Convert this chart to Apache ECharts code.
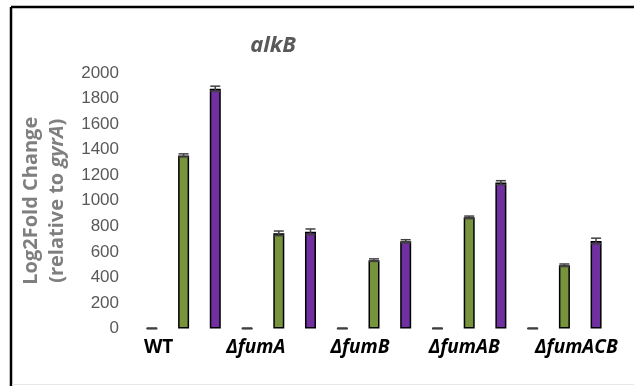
<!DOCTYPE html>
<html>
<head>
<meta charset="utf-8">
<script src="https://cdn.jsdelivr.net/npm/echarts@6/dist/echarts.min.js"></script>
<style>
  html, body { margin: 0; padding: 0; background: #ffffff; }
  #chart { width: 634px; height: 386px; }
</style>
</head>
<body>
<div id="chart"></div>
<script>
// alkB expression per strain, three conditions per strain
const categories = ['WT', 'ΔfumA', 'ΔfumB', 'ΔfumAB', 'ΔfumACB'];
const yTicks = [0, 200, 400, 600, 800, 1000, 1200, 1400, 1600, 1800, 2000];

const condition1 = [1, 1, 1, 1, 1];
const condition2 = [1355, 745, 535, 870, 495];
const condition3 = [1877, 757, 683, 1142, 685];

const condition1Err = [2, 2, 2, 2, 2];
const condition2Err = [12, 18, 10, 10, 10];
const condition3Err = [20, 22, 12, 15, 22];

// ---- layout / styling ----
const BAR_W = 11;
const BAR_GAP = 1.88;               // gap between bars, as a fraction of bar width
const SPACING = BAR_W * (1 + BAR_GAP);
const labelShift = [-25, -23, -14, -5, 12];

const chart = echarts.init(document.getElementById('chart'), null, { renderer: 'canvas' });

function errorSeries(name, values, errs, slot) {
  return {
    name: name + ' error',
    type: 'custom',
    z: 5,
    silent: true,
    data: values.map((v, i) => [i, v, errs[i]]),
    renderItem: function (params, api) {
      const idx = api.value(0);
      const v = api.value(1);
      const e = api.value(2);
      const hi = api.coord([idx, v + e]);
      const lo = api.coord([idx, v - e]);
      const x = hi[0] + (slot - 1) * SPACING;
      const cap = 5;
      const style = { stroke: '#404040', lineWidth: 1.5 };
      return {
        type: 'group',
        children: [
          { type: 'line', shape: { x1: x, y1: hi[1], x2: x, y2: lo[1] }, style: style },
          { type: 'line', shape: { x1: x - cap, y1: hi[1], x2: x + cap, y2: hi[1] }, style: style },
          { type: 'line', shape: { x1: x - cap, y1: lo[1], x2: x + cap, y2: lo[1] }, style: style }
        ]
      };
    }
  };
}

function barSeries(name, values, color) {
  return {
    name: name,
    type: 'bar',
    barWidth: BAR_W,
    barGap: (BAR_GAP * 100) + '%',
    data: values,
    itemStyle: { color: color, borderColor: '#000000', borderWidth: 1.5 }
  };
}

const option = {
  animation: false,
  backgroundColor: '#ffffff',
  title: {
    text: 'alkB',
    left: 268,
    top: 30,
    textAlign: 'center',
    textStyle: {
      fontFamily: 'Open Sans',
      fontSize: 22,
      fontStyle: 'italic',
      fontWeight: 'bold',
      color: '#595959'
    }
  },
  grid: { left: 136, right: 22, top: 73, bottom: 57.5 },
  xAxis: {
    type: 'category',
    data: categories.map((c, i) => ({
      value: c,
      textStyle: {
        padding: labelShift[i] < 0 ? [0, -2 * labelShift[i], 0, 0] : [0, 0, 0, 2 * labelShift[i]]
      }
    })),
    axisLine: { show: false },
    axisTick: { show: false },
    axisLabel: {
      margin: 10,
      interval: 0,
      fontFamily: 'Open Sans',
      fontSize: 19,
      fontWeight: 'bold',
      color: '#000000',
      formatter: function (v) { return v === 'WT' ? v : '{i|' + v + '}'; },
      rich: {
        i: { fontFamily: 'Open Sans', fontSize: 19, fontWeight: 'bold', fontStyle: 'italic', color: '#000000' }
      }
    }
  },
  yAxis: {
    type: 'value',
    min: yTicks[0],
    max: yTicks[yTicks.length - 1],
    interval: yTicks[1] - yTicks[0],
    axisLine: { show: false },
    axisTick: { show: false },
    splitLine: { show: false },
    axisLabel: {
      margin: 17,
      fontFamily: 'Liberation Sans',
      fontSize: 17,
      color: '#595959',
      formatter: function (v) { return String(v); }
    },
    name: '{b|Log2Fold Change}\n{b|(relative to }{bi|gyrA}{b|)}',
    nameLocation: 'middle',
    nameRotate: 90,
    nameGap: 58,
    nameTextStyle: {
      lineHeight: 26,
      rich: {
        b: { fontFamily: 'Open Sans', fontSize: 20, fontWeight: 'bold', color: '#7f7f7f', lineHeight: 26 },
        bi: { fontFamily: 'Open Sans', fontSize: 20, fontWeight: 'bold', fontStyle: 'italic', color: '#7f7f7f', lineHeight: 26 }
      }
    }
  },
  series: [
    barSeries('Condition 1', condition1, '#595959'),
    barSeries('Condition 2', condition2, '#77933c'),
    barSeries('Condition 3', condition3, '#7030a0'),
    errorSeries('Condition 1', condition1, condition1Err, 0),
    errorSeries('Condition 2', condition2, condition2Err, 1),
    errorSeries('Condition 3', condition3, condition3Err, 2)
  ],
  graphic: [
    { type: 'line', shape: { x1: 11, y1: 7, x2: 634, y2: 7 }, style: { stroke: '#000000', lineWidth: 2.5 } },
    { type: 'line', shape: { x1: 11, y1: 7, x2: 11, y2: 386 }, style: { stroke: '#000000', lineWidth: 2.5 } },
    { type: 'line', shape: { x1: 12, y1: 384.5, x2: 634, y2: 384.5 }, style: { stroke: '#e6e6e6', lineWidth: 1 } }
  ]
};

chart.setOption(option);
</script>
</body>
</html>
